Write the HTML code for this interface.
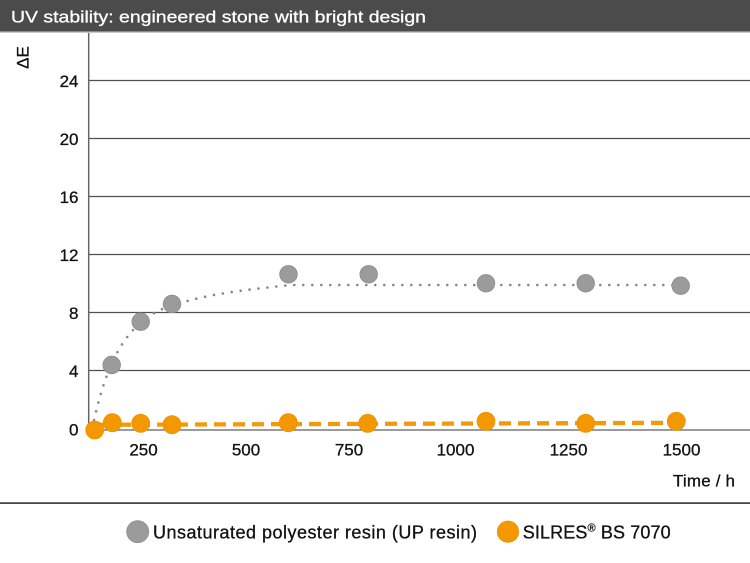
<!DOCTYPE html>
<html><head><meta charset="utf-8"><style>
html,body{margin:0;padding:0;background:#fff;}
svg{display:block;}
text{font-family:"Liberation Sans",Arial,sans-serif;}
</style></head><body>
<svg width="750" height="563" viewBox="0 0 750 563" xmlns="http://www.w3.org/2000/svg">
<rect x="0" y="0" width="750" height="563" fill="#fff"/>
<rect x="0" y="0" width="750" height="31.5" fill="#4b4b4b"/>
<rect x="0" y="31.5" width="750" height="1.5" fill="#c8c8c8"/>
<text x="11" y="22.7" font-size="17" fill="#fff" stroke="#fff" stroke-width="0.3" textLength="415" lengthAdjust="spacingAndGlyphs">UV stability: engineered stone with bright design</text>

<!-- grid -->
<g stroke="#505050" stroke-width="1.3">
<line x1="89" y1="80.5" x2="750" y2="80.5"/>
<line x1="89" y1="138.5" x2="750" y2="138.5"/>
<line x1="89" y1="196.5" x2="750" y2="196.5"/>
<line x1="89" y1="254.5" x2="750" y2="254.5"/>
<line x1="89" y1="312.5" x2="750" y2="312.5"/>
<line x1="89" y1="370.5" x2="750" y2="370.5"/>
</g>
<line x1="89" y1="430" x2="750" y2="430" stroke="#7a7a7a" stroke-width="1.4"/>
<line x1="88.7" y1="33" x2="88.7" y2="430.5" stroke="#666" stroke-width="1.5"/>

<!-- y labels -->
<g font-size="17" fill="#111" stroke="#111" stroke-width="0.3" text-anchor="end">
<text x="78.5" y="86.8">24</text>
<text x="78.5" y="144.8">20</text>
<text x="78.5" y="202.8">16</text>
<text x="78.5" y="260.8">12</text>
<text x="78.5" y="318.8">8</text>
<text x="78.5" y="376.8">4</text>
<text x="78.5" y="435.3">0</text>
</g>
<text transform="translate(28.5,57.5) rotate(-90)" font-size="17" fill="#111" stroke="#111" stroke-width="0.3" text-anchor="middle">ΔE</text>

<!-- x labels -->
<g font-size="17" fill="#111" stroke="#111" stroke-width="0.3" text-anchor="middle">
<text x="143.5" y="455.5">250</text>
<text x="246" y="455.5">500</text>
<text x="349" y="455.5">750</text>
<text x="455.5" y="455.5">1000</text>
<text x="568.5" y="455.5">1250</text>
<text x="681.5" y="455.5">1500</text>
</g>
<text x="673" y="486.5" font-size="17" fill="#111" stroke="#111" stroke-width="0.3" textLength="62" lengthAdjust="spacing">Time / h</text>

<!-- gray dotted curve -->
<path d="M94,420 C104,378 118,330 160,310 C 200,294 245,290 290,285 L 681,285" fill="none" stroke="#858585" stroke-width="2.6" stroke-linecap="round" stroke-dasharray="0 9"/>
<!-- orange dashed line -->
<path d="M100,424.8 L680,422.8" fill="none" stroke="#f39a0c" stroke-width="4.3" stroke-dasharray="12 7"/>

<!-- gray markers -->
<g fill="#9b9b9b" stroke="#8c8c8c" stroke-width="0.8">
<circle cx="111.7" cy="365" r="8.8"/>
<circle cx="140.7" cy="321.7" r="8.8"/>
<circle cx="172" cy="304" r="8.8"/>
<circle cx="288.5" cy="274.3" r="8.8"/>
<circle cx="368.7" cy="274.3" r="8.8"/>
<circle cx="486" cy="283.3" r="8.8"/>
<circle cx="585.7" cy="283.3" r="8.8"/>
<circle cx="680.7" cy="285.7" r="8.8"/>
</g>
<!-- orange markers -->
<g fill="#f39800" stroke="#ec9406" stroke-width="0.8">
<circle cx="94.7" cy="430" r="9"/>
<circle cx="112.3" cy="422.7" r="9"/>
<circle cx="140.7" cy="423.3" r="9"/>
<circle cx="172" cy="424.7" r="9"/>
<circle cx="288.3" cy="422.7" r="9"/>
<circle cx="367.7" cy="423.3" r="9"/>
<circle cx="486" cy="421.3" r="9"/>
<circle cx="585.7" cy="423.3" r="9"/>
<circle cx="676.3" cy="421.3" r="9"/>
</g>

<!-- separator -->
<rect x="0" y="502.3" width="750" height="1.6" fill="#333"/>

<!-- legend -->
<circle cx="137.7" cy="531.7" r="11" fill="#9b9b9b" stroke="#8c8c8c" stroke-width="0.8"/>
<text x="153" y="538.5" font-size="18" fill="#111" stroke="#111" stroke-width="0.3" textLength="324" lengthAdjust="spacing">Unsaturated polyester resin (UP resin)</text>
<circle cx="508" cy="531.7" r="10.7" fill="#f39800" stroke="#ec9406" stroke-width="0.8"/>
<text x="522.7" y="538.3" font-size="18" fill="#111" stroke="#111" stroke-width="0.3" textLength="148" lengthAdjust="spacing">SILRES<tspan font-size="11" dy="-7">®</tspan><tspan dy="7"> BS 7070</tspan></text>
</svg>
</body></html>
